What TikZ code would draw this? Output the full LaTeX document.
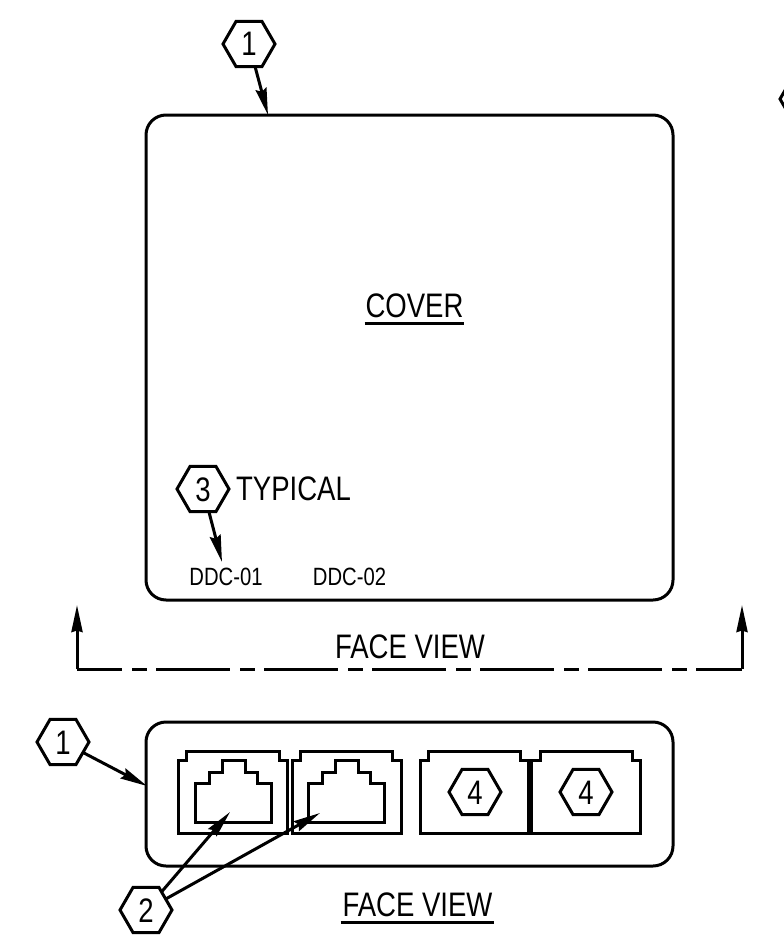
\documentclass[tikz,border=0pt]{standalone}
\usepackage{fontspec}
\setmainfont[FakeStretch=0.81]{Liberation Sans}
\usetikzlibrary{shapes.geometric,arrows.meta}
\tikzset{
  x=1pt,y=-1pt,
  ln/.style={line width=3pt,line join=miter},
  hex/.style={draw,line width=3pt,regular polygon,regular polygon sides=6,minimum size=52pt,inner sep=0pt,outer sep=0pt,font=\fontsize{34pt}{34pt}\selectfont,text height=24pt,text depth=0pt},
  lbl/.style={inner sep=0pt,outer sep=0pt,font=\fontsize{34pt}{34pt}\selectfont,text height=24pt,text depth=0pt},
  small/.style={inner sep=0pt,outer sep=0pt,font=\fontsize{25pt}{25pt}\selectfont,text height=17pt,text depth=0pt},
  lead/.style={line width=3pt,-{Stealth[length=27pt,width=11pt,inset=3pt]}},
  sect/.style={line width=3pt,-{Stealth[length=27pt,width=11pt,inset=1.5pt]}},
  dd/.style={line width=3pt,dash pattern=on 74pt off 10pt on 15pt off 9pt,dash phase=29pt},
}
\newcommand{\jackbody}[2]{%
  \draw[ln] (#1,751) ++(0,82) -- (#1,760) -- ++(8.5,0) -- ++(0,-9) -- ++(#2-17,0) -- ++(0,9) -- ++(8.5,0) -- ++(0,73) -- cycle;}
\newcommand{\plug}[1]{%
  \draw[ln,shift={(#1,0)}] (195,822) -- (195,783) -- (209,783) -- (209,772) -- (222,772) -- (222,760) -- (245,760) -- (245,772) -- (257,772) -- (257,783) -- (271,783) -- (271,822) -- cycle;}
\begin{document}
\begin{tikzpicture}
\useasboundingbox (0,0) rectangle (784,950);
\clip (0,0) rectangle (784,950);
% bodies
\draw[ln,rounded corners=20pt] (146,115) rectangle (673,600);
\draw[ln,rounded corners=20pt] (146,722) rectangle (673,866);
% jacks
\jackbody{178}{109.5}
\jackbody{292}{109}
\jackbody{420}{108.5}
\jackbody{531.5}{109}
\plug{0}
\plug{113.5}
% labels
\node[lbl] (cover) at (414.5,305) {COVER};
\node[lbl] (typ) at (293.5,488) {TYPICAL};
\node[small] (d1) at (226,577) {DDC-01};
\node[small] (d2) at (349.5,577) {DDC-02};
\node[lbl] (fv1) at (410,646) {FACE VIEW};
\node[lbl] (fv2) at (417.5,904) {FACE VIEW};
\draw[line width=3pt] ([xshift=-1pt,yshift=-6.5pt]cover.south west) -- ([xshift=1pt,yshift=-6.5pt]cover.south east);
\draw[line width=3pt] ([xshift=-2pt,yshift=-6.5pt]fv2.south west) -- ([xshift=2pt,yshift=-6.5pt]fv2.south east);
% hexes
\node[hex] (h1a) at (249,44) {1};
\node[hex] (h1b) at (63,742) {1};
\node[hex] (h2) at (146,910) {2};
\node[hex] (h3) at (203,489) {3};
\node[hex] (h4a) at (475,792) {4};
\node[hex] (h4b) at (586,792) {4};
\node[hex] (h5) at (806,99) {};
% leader tips
\coordinate (t1a) at (268,115);
\coordinate (t1b) at (147,786);
\coordinate (t2a) at (230,812);
\coordinate (t2b) at (320,813);
\coordinate (t3) at (222,562);
\draw[lead] (h1a) -- (t1a);
\draw[lead] (h1b) -- (t1b);
\draw[lead] (h2) -- (t2a);
\draw[lead] (h2) -- (t2b);
\draw[lead] (h3) -- (t3);
% section line
\coordinate (sl) at (77,669);
\coordinate (sr) at (742,669);
\coordinate (al) at (77,605);
\coordinate (ar) at (742,605);
\draw[dd] (sl) -- (sr);
\draw[sect] (sl) -- (al);
\draw[sect] (sr) -- (ar);
\end{tikzpicture}
\end{document}
